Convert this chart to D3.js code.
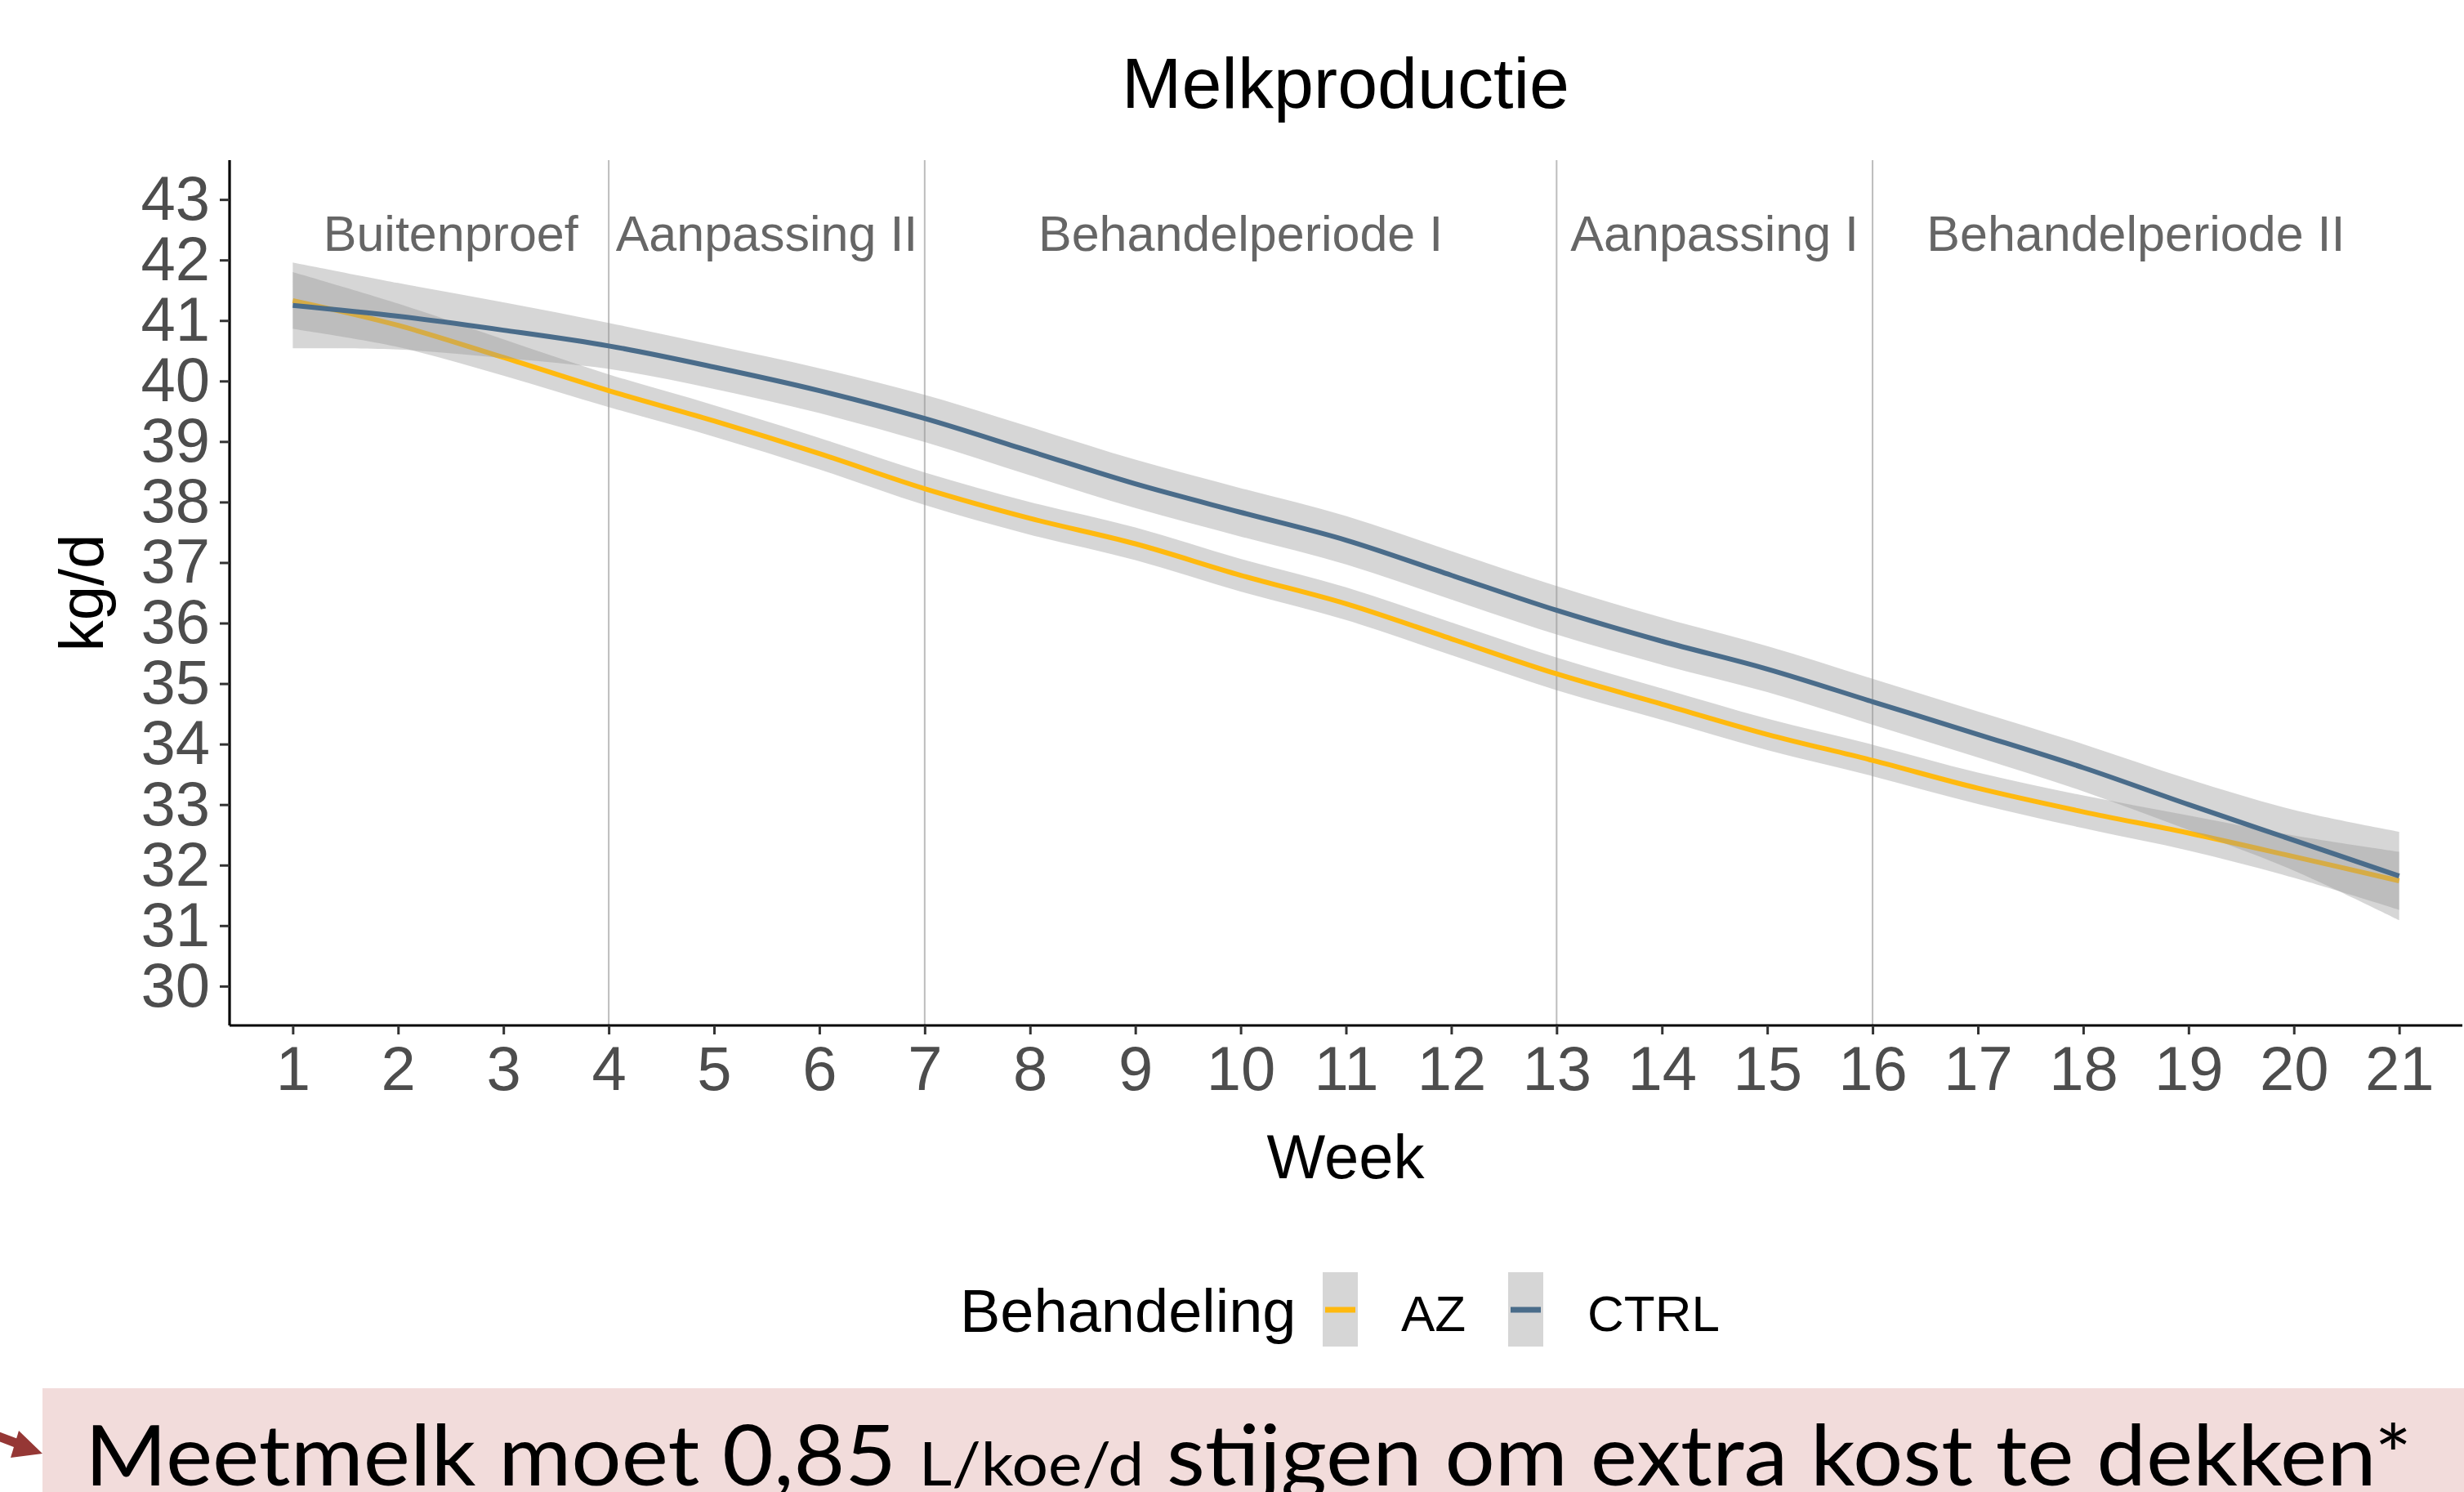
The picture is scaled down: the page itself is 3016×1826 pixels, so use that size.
<!DOCTYPE html>
<html>
<head>
<meta charset="utf-8">
<script src="https://cdn.jsdelivr.net/npm/d3@7"></script>
<style>
  html, body { margin: 0; padding: 0; background: #ffffff; }
  svg { display: block; }
</style>
</head>
<body>
<script>
// ---------------- data ----------------
const weeks = [1,2,3,4,5,6,7,8,9,10,11,12,13,14,15,16,17,18,19,20,21];
const azValues   = [41.33,40.92,40.39,39.84,39.34,38.80,38.22,37.73,37.31,36.79,36.32,35.74,35.16,34.66,34.16,33.73,33.27,32.88,32.53,32.14,31.74];
const ctrlValues = [41.25,41.07,40.84,40.58,40.23,39.84,39.38,38.84,38.30,37.83,37.37,36.79,36.21,35.70,35.24,34.70,34.16,33.61,33.00,32.41,31.82];
const azCI   = [0.47,0.36,0.30,0.27,0.26,0.26,0.27,0.27,0.27,0.27,0.27,0.27,0.27,0.26,0.26,0.26,0.26,0.27,0.29,0.35,0.48];
const ctrlCI = [0.71,0.55,0.46,0.38,0.36,0.37,0.39,0.40,0.40,0.40,0.40,0.40,0.40,0.39,0.38,0.38,0.38,0.39,0.42,0.50,0.73];
const seriesNames = ["AZ", "CTRL"];
const yTicks = [30,31,32,33,34,35,36,37,38,39,40,41,42,43];
const periodBounds = [1, 4, 7, 13, 16, 21];
const periodLabels = ["Buitenproef", "Aanpassing II", "Behandelperiode I", "Aanpassing I", "Behandelperiode II"];

(function () {
const W = 3016, H = 1826;
const FONT = "'Liberation Sans', Arial, sans-serif";
const colors = { AZ: "#FFB90F", CTRL: "#4A6C8A" };

const svg = d3.select("body").append("svg").attr("width", W).attr("height", H);

const pLeft = 281, pRight = 3014, pTop = 196, pBottom = 1255;
const x = d3.scaleLinear().domain([0.4, 21.6]).range([pLeft, pRight]);
const y = d3.scaleLinear().domain([29.35, 43.65]).range([pBottom, pTop]);

// title
svg.append("text").attr("x", 1647).attr("y", 132).attr("text-anchor", "middle")
  .attr("font-family", FONT).attr("font-size", 88).attr("fill", "#000").text("Melkproductie");

// period divider lines
const dividers = periodBounds.slice(1, -1);
svg.append("g").selectAll("line").data(dividers).join("line")
  .attr("x1", d => x(d)).attr("x2", d => x(d))
  .attr("y1", pTop).attr("y2", pBottom)
  .attr("stroke", "#bdbdbd").attr("stroke-width", 2);

// period labels
svg.append("g").selectAll("text").data(periodLabels).join("text")
  .attr("x", (d, i) => x((periodBounds[i] + periodBounds[i + 1]) / 2))
  .attr("y", 307).attr("text-anchor", "middle")
  .attr("font-family", FONT).attr("font-size", 61).attr("fill", "#666666")
  .text(d => d);

// series
const series = [
  { name: "AZ", values: azValues, ci: azCI },
  { name: "CTRL", values: ctrlValues, ci: ctrlCI }
];
const curve = d3.curveCatmullRom.alpha(0.5);
const area = d3.area().curve(curve)
  .x(d => x(d.w)).y0(d => y(d.v - d.c)).y1(d => y(d.v + d.c));
const line = d3.line().curve(curve).x(d => x(d.w)).y(d => y(d.v));

const plot = svg.append("g");
series.forEach(s => {
  const pts = weeks.map((w, i) => ({ w, v: s.values[i], c: s.ci[i] }));
  plot.append("path").attr("d", area(pts)).attr("fill", "#999999").attr("fill-opacity", 0.4);
  plot.append("path").attr("d", line(pts)).attr("fill", "none")
    .attr("stroke", colors[s.name]).attr("stroke-width", 6).attr("stroke-linejoin", "round");
});

// axes
const yAxis = svg.append("g").attr("transform", `translate(${pLeft},0)`)
  .call(d3.axisLeft(y).tickValues(yTicks).tickSize(12).tickPadding(12));
const xAxis = svg.append("g").attr("transform", `translate(0,${pBottom})`)
  .call(d3.axisBottom(x).tickValues(weeks).tickSize(11).tickPadding(14));
[yAxis, xAxis].forEach(a => {
  a.select(".domain").attr("stroke", "#000").attr("stroke-width", 3.2);
  a.selectAll(".tick line").attr("stroke", "#333333").attr("stroke-width", 3);
  a.selectAll(".tick text").attr("font-family", FONT).attr("font-size", 76).attr("fill", "#4d4d4d");
});
yAxis.select(".domain").attr("d", `M0,${pTop}V${pBottom}`);
xAxis.select(".domain").attr("d", `M${pLeft},0H${pRight}`);

// axis titles
svg.append("text").attr("x", 1647).attr("y", 1442).attr("text-anchor", "middle")
  .attr("font-family", FONT).attr("font-size", 76).attr("fill", "#000").text("Week");
svg.append("text").attr("transform", `translate(126,${(pTop + pBottom) / 2}) rotate(-90)`)
  .attr("text-anchor", "middle").attr("font-family", FONT).attr("font-size", 76)
  .attr("fill", "#000").text("kg/d");

// legend
const lg = svg.append("g");
lg.append("text").attr("x", 1175).attr("y", 1630).attr("font-family", FONT)
  .attr("font-size", 74).attr("fill", "#000").text("Behandeling");
const keyX = { AZ: 1619, CTRL: 1846 };
const labX = { AZ: 1715, CTRL: 1943 };
seriesNames.forEach(n => {
  lg.append("rect").attr("x", keyX[n]).attr("y", 1557).attr("width", 43).attr("height", 91)
    .attr("fill", "#999999").attr("fill-opacity", 0.4);
  lg.append("line").attr("x1", keyX[n] + 3).attr("x2", keyX[n] + 40)
    .attr("y1", 1603).attr("y2", 1603).attr("stroke", colors[n]).attr("stroke-width", 7);
  lg.append("text").attr("x", labX[n]).attr("y", 1629).attr("font-family", FONT)
    .attr("font-size", 62).attr("fill", "#000").text(n);
});

// bottom banner
svg.append("rect").attr("x", 52).attr("y", 1699).attr("width", W - 52).attr("height", H - 1699)
  .attr("fill", "#f2dcdb");
svg.append("line").attr("x1", -4).attr("y1", 1757).attr("x2", 30).attr("y2", 1770)
  .attr("stroke", "#953735").attr("stroke-width", 11);
svg.append("path").attr("d", "M23,1751 L52,1779 L13,1784 Z").attr("fill", "#953735");

const bt = svg.append("text").attr("font-family", "Lato, 'Open Sans', sans-serif").attr("fill", "#000");
bt.append("tspan").attr("font-size", 102).text("Meetmelk moet 0,85 ");
bt.append("tspan").attr("font-size", 74).text("L/koe/d");
bt.append("tspan").attr("font-size", 102).text(" stijgen om extra kost te dekken*");
const bw = bt.node().getComputedTextLength();
const sx = (2953 - 104) / bw;
bt.attr("transform", `translate(104,1818) scale(${sx},1)`);
})();
</script>
</body>
</html>
